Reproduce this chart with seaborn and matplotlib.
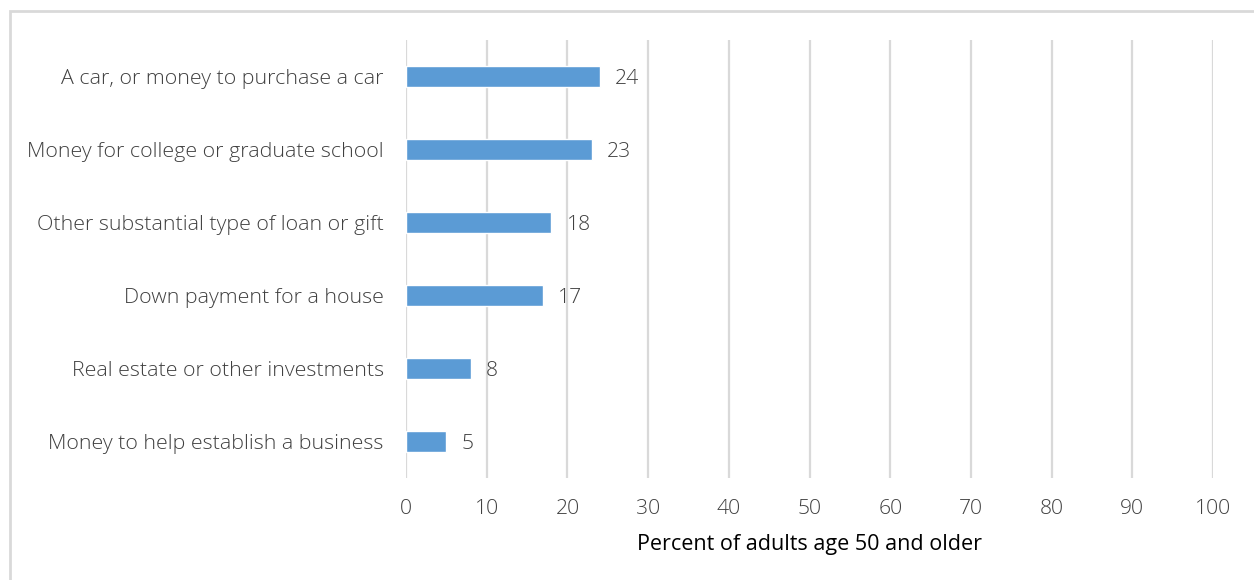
import matplotlib
matplotlib.use("Agg")
from matplotlib import pyplot as plt
from matplotlib.patches import Rectangle
import pandas as pd
import seaborn as sns

categories = ['A car, or money to purchase a car',
              'Money for college or graduate school',
              'Other substantial type of loan or gift',
              'Down payment for a house',
              'Real estate or other investments',
              'Money to help establish a business']
percent = [24, 23, 18, 17, 8, 5]
x_ticks = [0, 10, 20, 30, 40, 50, 60, 70, 80, 90, 100]

df = pd.DataFrame({'category': categories, 'percent': percent})

sns.set_style('white')
plt.rcParams['font.family'] = ['Open Sans', 'DejaVu Sans']
plt.rcParams['font.weight'] = 'light'

fig = plt.figure(figsize=(12.54, 5.8), dpi=100)
ax = fig.add_axes([406 / 1254, 1 - 478 / 580, (1213 - 406) / 1254, (478 - 40) / 580])

sns.barplot(ax=ax, data=df, x='percent', y='category', orient='h',
            color='#5B9BD5', saturation=1, width=0.3)

ax.set_xlim(0, 100)
ax.set_ylim(5.5, -0.5)
ax.set_xticks(x_ticks)
ax.grid(axis='x', color='#D9D9D9', linewidth=1.6)
ax.set_axisbelow(True)
for pos in ['right', 'top', 'bottom', 'left']:
    ax.spines[pos].set_visible(False)
ax.tick_params(axis='x', length=0, pad=15, labelsize=15.2, labelcolor='#404040')
ax.tick_params(axis='y', length=0, pad=16, labelsize=15.4, labelcolor='#404040')
ax.set_ylabel('')
ax.set_xlabel('Percent of adults age 50 and older', fontsize=15.5, color='black',
              fontweight='normal', labelpad=11)

for rect, v in zip(ax.patches, percent):
    ax.annotate(str(v), (rect.get_width(), rect.get_y() + rect.get_height() / 2),
                xytext=(11, -2), textcoords='offset points', va='center', ha='left',
                fontsize=15.2, color='#404040')

fig.patches.append(Rectangle((10 / 1254, -0.1), 1.2, 1.1 - 11 / 580, transform=fig.transFigure,
                             fill=False, edgecolor='#D9D9D9', linewidth=2, zorder=0))

fig.savefig('out.png', dpi=100)
